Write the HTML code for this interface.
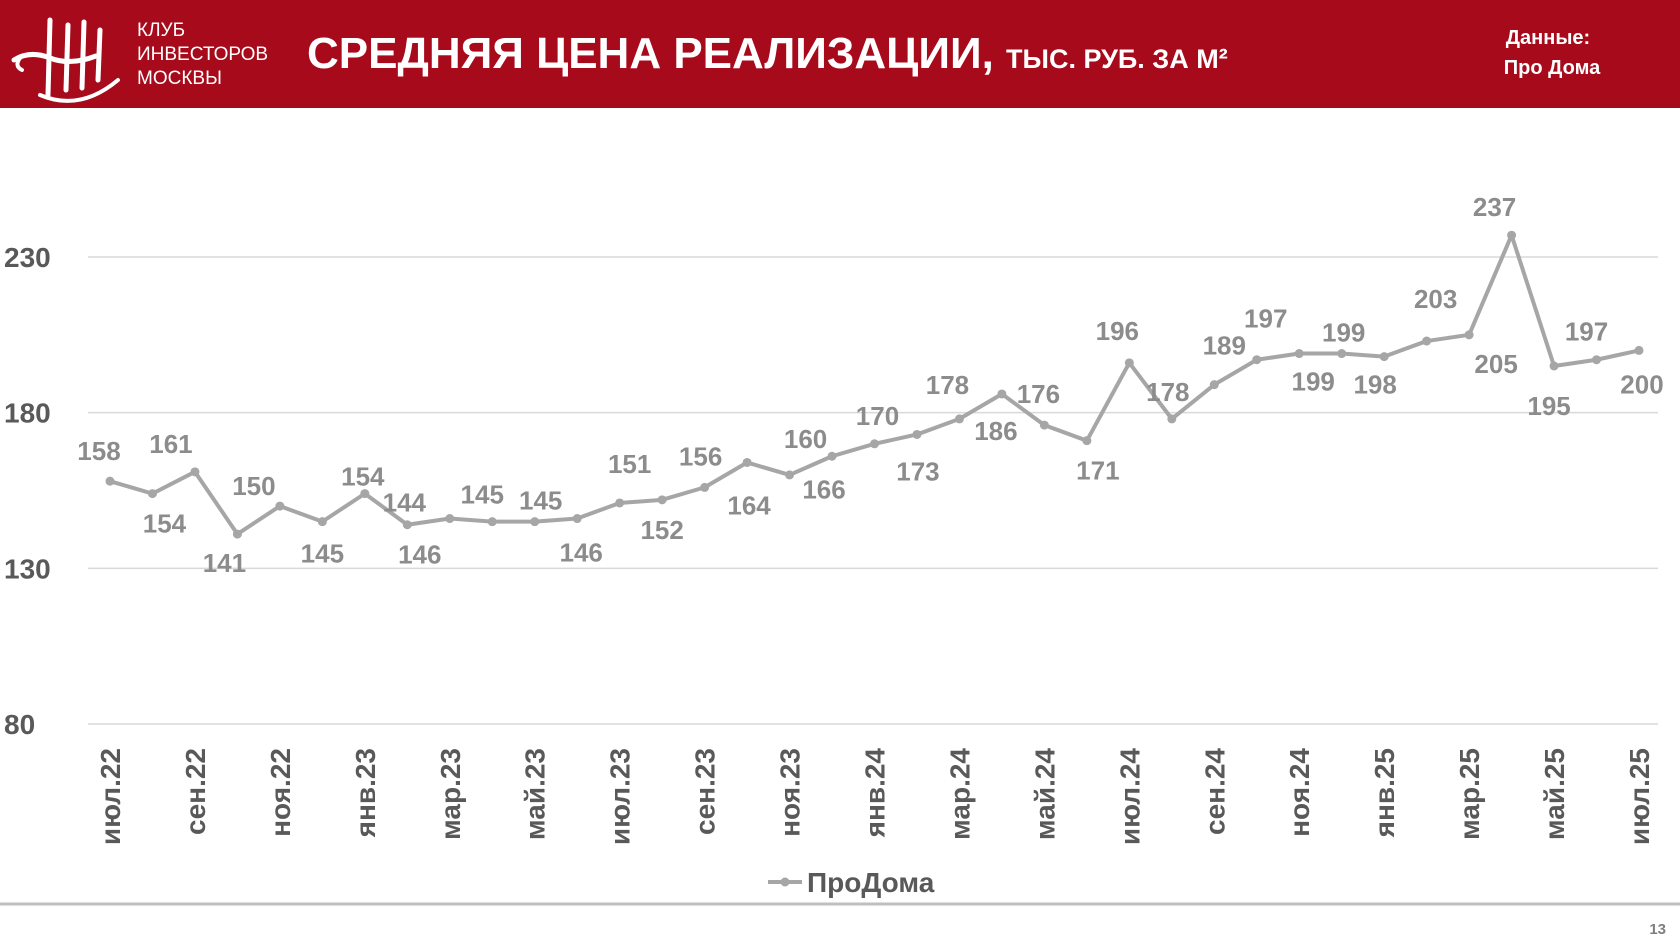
<!DOCTYPE html>
<html><head><meta charset="utf-8">
<style>
html,body{margin:0;padding:0;background:#fff;}
body{width:1680px;height:945px;overflow:hidden;position:relative;font-family:"Liberation Sans","Noto Sans CJK SC",sans-serif;}
</style></head>
<body>
<svg id="chart" width="1680" height="945" viewBox="0 0 1680 945" xmlns="http://www.w3.org/2000/svg" style="position:absolute;left:0;top:0">
  <rect x="0" y="0" width="1680" height="108" fill="#a70a1b"/>
  <g fill="none" stroke="#fff" stroke-width="5" stroke-linecap="round">
    <path d="M50 20 L48 95 M68 25 L66 90 M84 22 L82 88 M100 30 L98 80"/>
    <path d="M14 60 Q30 50 50 58 Q70 66 96 56"/>
    <path d="M40 95 Q80 112 118 80" stroke-width="4"/>
    <path d="M20 58 Q14 66 22 70" stroke-width="4"/>
  </g>
  <text x="137" y="36" fill="#fff" font-size="19" font-family="Liberation Sans Narrow, Liberation Sans, sans-serif">КЛУБ</text>
  <text x="137" y="60" fill="#fff" font-size="19" font-family="Liberation Sans Narrow, Liberation Sans, sans-serif">ИНВЕСТОРОВ</text>
  <text x="137" y="84" fill="#fff" font-size="19" font-family="Liberation Sans Narrow, Liberation Sans, sans-serif">МОСКВЫ</text>
  <text x="307" y="68" fill="#fff" font-size="44" font-weight="bold">СРЕДНЯЯ ЦЕНА РЕАЛИЗАЦИИ, <tspan font-size="27">ТЫС. РУБ. ЗА М²</tspan></text>
  <text x="1548" y="44" fill="#fff" font-size="20" font-weight="bold" text-anchor="middle">Данные:</text>
  <text x="1552" y="74" fill="#fff" font-size="20" font-weight="bold" text-anchor="middle">Про Дома</text>
  <g id="grid"></g>
  <g id="series"></g>
  <g id="labels"></g>
  <g id="xaxis"></g>
  <g>
    <line x1="768" y1="882" x2="802" y2="882" stroke="#a6a6a6" stroke-width="4"/>
    <circle cx="785" cy="882" r="4.5" fill="#a6a6a6"/>
    <text x="807" y="892" font-size="28" font-weight="bold" fill="#595959">ПроДома</text>
  </g>
  <line x1="0" y1="904" x2="1680" y2="904" stroke="#bfbfbf" stroke-width="3"/>
  <text x="1666" y="934" font-size="15" font-weight="bold" fill="#7f7f7f" text-anchor="end">13</text>
</svg>
<script>
const months = ["июл.22","авг.22","сен.22","окт.22","ноя.22","дек.22","янв.23","фев.23","мар.23","апр.23","май.23","июн.23","июл.23","авг.23","сен.23","окт.23","ноя.23","дек.23","янв.24","фев.24","мар.24","апр.24","май.24","июн.24","июл.24","авг.24","сен.24","окт.24","ноя.24","дек.24","янв.25","фев.25","мар.25","апр.25","май.25","июн.25","июл.25"];
const prices = [158,154,161,141,150,145,154,144,146,145,145,146,151,152,156,164,160,166,170,173,178,186,176,171,196,178,189,197,199,199,198,203,205,237,195,197,200];
const yTicks = [80,130,180,230];
// label placement offsets (style only)
const ldx=[-11,12,-24,-13,-26,0,-2,-3,-30,-10,6,4,10,0,-4,2,16,-8,3,1,-12,-6,-6,11,-12,-4,10,9,14,2,-9,9,27,-17,-5,-10,3];
const ldy=[-21,39,-19,38,-11,41,-8,-13,45,-18,-12,43,-30,39,-22,52,-27,42,-19,46,-25,46,-22,39,-23,-18,-30,-32,37,-12,37,-33,38,-19,49,-19,43];
const NS="http://www.w3.org/2000/svg";
const x0=110,x1=1639,yBase=724,yPer=(724-257)/150;
const X=i=>x0+i*(x1-x0)/(months.length-1);
const Y=v=>yBase-(v-80)*yPer;
function mk(tag,attrs,parent){const e=document.createElementNS(NS,tag);for(const k in attrs)e.setAttribute(k,attrs[k]);parent.appendChild(e);return e;}
const grid=document.getElementById('grid');
yTicks.forEach(t=>{
  const l=mk('line',{x1:88,x2:1658,y1:Y(t),y2:Y(t),stroke:'#d9d9d9','stroke-width':1.5},grid);
  
  
  const tx=mk('text',{x:4,y:Y(t)+10,'font-size':28,'font-weight':'bold',fill:'#595959'},grid);
  tx.textContent=t;
  
  
});
const ser=document.getElementById('series');
const pts=prices.map((v,i)=>X(i)+','+Y(v)).join(' ');
const pl=mk('polyline',{points:pts,fill:'none',stroke:'#a6a6a6','stroke-width':4,'stroke-linejoin':'round'},ser);


const lab=document.getElementById('labels');
prices.forEach((v,i)=>{
  const c=mk('circle',{cx:X(i),cy:Y(v),r:4.5,fill:'#a6a6a6'},ser);
  
  
  const t=mk('text',{x:X(i)+ldx[i],y:Y(v)+ldy[i],'font-size':26,'font-weight':'bold',fill:'#8c8c8c','text-anchor':'middle'},lab);
  t.textContent=v;
  
  
});
const xa=document.getElementById('xaxis');
months.forEach((m,i)=>{
  if(i%2)return;
  const t=mk('text',{x:0,y:0,'font-size':28,'font-weight':'bold',fill:'#595959','text-anchor':'end',transform:`translate(${X(i)+10},${748}) rotate(-90)`},xa);
  t.textContent=m;
  
  
});
</script>
</body></html>
